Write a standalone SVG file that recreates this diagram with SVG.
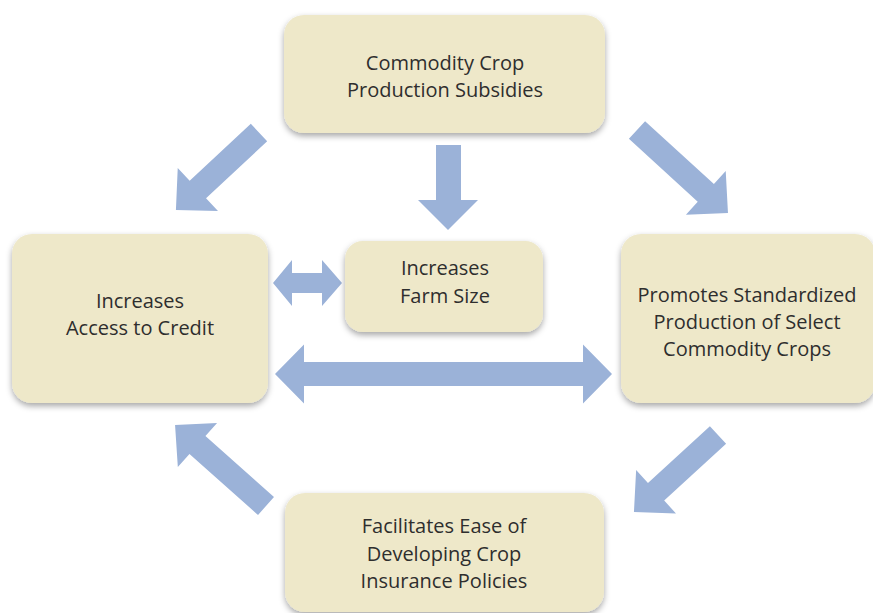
<svg xmlns="http://www.w3.org/2000/svg" width="873" height="613" viewBox="0 0 873 613">
<defs>
<filter id="sh" x="-10%" y="-10%" width="120%" height="130%">
<feDropShadow dx="0" dy="3" stdDeviation="3" flood-color="#000" flood-opacity="0.35"/>
</filter>
</defs>
<style>
.box{fill:#EEE8C9;filter:url(#sh);}
.lbl{font-family:"Open Sans","Noto Sans",sans-serif;font-size:20px;fill:#2e2e2e;text-anchor:middle;}
.arr{fill:#9BB2D8;}
</style>
<rect width="873" height="613" fill="#ffffff"/>
<g id="connectors">
<path class="arr" transform="translate(259,132.5) rotate(137)" d="M0,-12 L83.6,-12 L83.6,-29.5 L113.6,0 L83.6,29.5 L83.6,12 L0,12 Z"/>
<path class="arr" transform="translate(637,130) rotate(42.4)" d="M0,-12 L93.2,-12 L93.2,-29.5 L123.2,0 L93.2,29.5 L93.2,12 L0,12 Z"/>
<path class="arr" transform="translate(718,435) rotate(137.5)" d="M0,-12 L84,-12 L84,-29.5 L114,0 L84,29.5 L84,12 L0,12 Z"/>
<path class="arr" transform="translate(266,506) rotate(221.7)" d="M0,-12 L91.8,-12 L91.8,-29.5 L121.8,0 L91.8,29.5 L91.8,12 L0,12 Z"/>
<path class="arr" d="M436,145 L461,145 L461,200 L478,200 L448,230 L418,200 L436,200 Z"/>
<path class="arr" d="M273,283 L292,260 L292,273 L322,273 L322,260 L342,283 L322,306 L322,293 L292,293 L292,306 Z"/>
<path class="arr" d="M275,374 L304,344.5 L304,362 L583,362 L583,344.5 L612,374 L583,403.5 L583,386 L304,386 L304,403.5 Z"/>
</g>
<g id="node-top">
<rect class="box" x="284" y="15" width="321" height="118" rx="20"/>
<text class="lbl" x="445" y="70">Commodity Crop</text>
<text class="lbl" x="445" y="97">Production Subsidies</text>
</g>
<g id="node-left">
<rect class="box" x="12" y="234" width="256" height="169" rx="20"/>
<text class="lbl" x="140" y="308">Increases</text>
<text class="lbl" x="140" y="335">Access to Credit</text>
</g>
<g id="node-middle">
<rect class="box" x="345" y="241" width="198" height="91" rx="18"/>
<text class="lbl" x="445" y="275">Increases</text>
<text class="lbl" x="445" y="303">Farm Size</text>
</g>
<g id="node-right">
<rect class="box" x="621" y="234" width="254" height="169" rx="20"/>
<text class="lbl" x="747" y="302">Promotes Standardized</text>
<text class="lbl" x="747" y="329">Production of Select</text>
<text class="lbl" x="747" y="356">Commodity Crops</text>
</g>
<g id="node-bottom">
<rect class="box" x="285" y="493" width="319" height="119" rx="20"/>
<text class="lbl" x="444" y="533">Facilitates Ease of</text>
<text class="lbl" x="444" y="561">Developing Crop</text>
<text class="lbl" x="444" y="588">Insurance Policies</text>
</g>
</svg>
